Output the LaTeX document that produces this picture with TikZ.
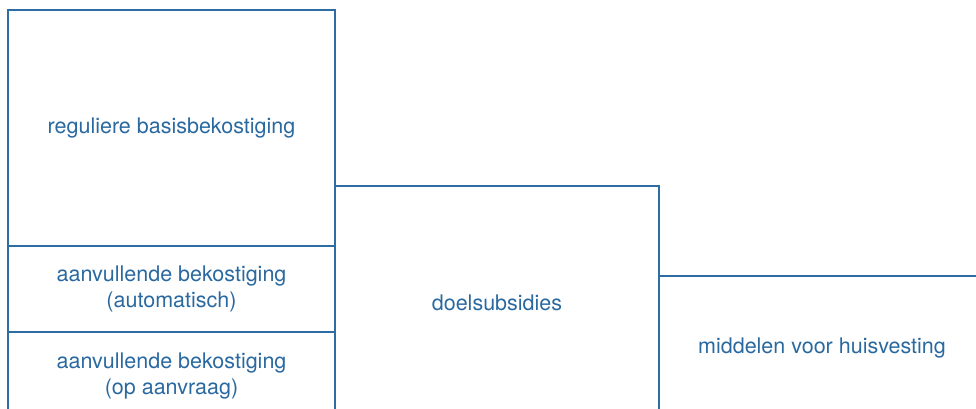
\documentclass[tikz,border=0pt]{standalone}
\usepackage{fontspec}
\setmainfont{TeX Gyre Heros}
\definecolor{lineblue}{HTML}{2E6DA3}
\definecolor{textblue}{HTML}{2A69A0}
\begin{document}
\begin{tikzpicture}[x=1pt,y=-1pt,
  fundbox/.style={draw=lineblue, line width=1.2pt, rectangle, anchor=north west,
    inner sep=0pt, outer sep=0pt, align=center, text=textblue,
    font=\fontsize{21.5}{25.5}\selectfont}]
\useasboundingbox (0,0) rectangle (976,409);
\clip (0,0) rectangle (976,409);
% left column: three stacked funding blocks
\node[fundbox, minimum width=327pt, minimum height=236pt] (regulier) at (8,10)
  {reguliere basisbekostiging};
\node[fundbox, minimum width=327pt, minimum height=86pt] (automatisch) at (8,246)
  {aanvullende bekostiging\\(automatisch)};
\node[fundbox, minimum width=327pt, minimum height=88pt] (aanvraag) at (8,332)
  {aanvullende bekostiging\\(op aanvraag)};
% middle and right blocks
\node[fundbox, minimum width=324pt, minimum height=234pt] (doel) at (335,186)
  {doelsubsidies};
\node[fundbox, minimum width=326pt, minimum height=144pt] (huisvesting) at (659,276)
  {middelen voor huisvesting};
\end{tikzpicture}
\end{document}
